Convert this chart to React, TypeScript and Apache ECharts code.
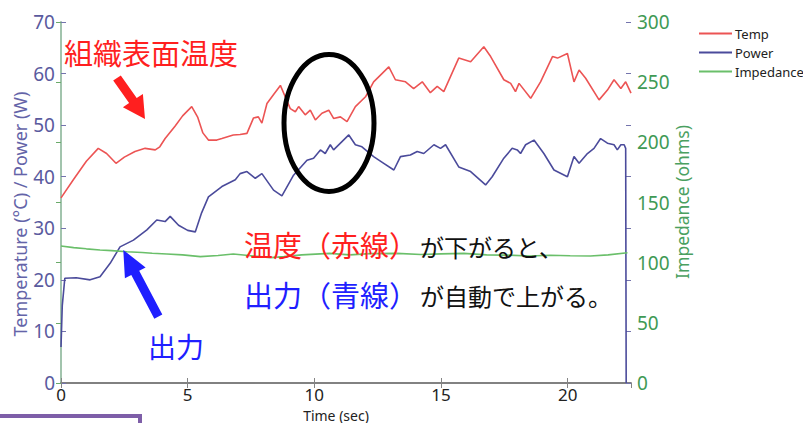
import React, { useEffect, useRef } from "react";
import * as echarts from "echarts";

const xTicks = { min: 0, max: 22.5, interval: 5 };
const leftTicks = { min: 0, max: 70, interval: 10 };
const rightTicks = { min: 0, max: 300, interval: 50 };

const seriesNames = ["Temp", "Power", "Impedance"];

const tempData: [number, number][] = [
  [0, 35.9], [0.5, 39.5], [1.0, 43], [1.47, 45.5], [1.8, 44.5], [2.17, 42.6], [2.5, 43.8],
  [2.92, 44.9], [3.32, 45.5], [3.72, 45.2], [3.9, 45.8], [4.11, 47.4], [4.5, 49.8], [4.8, 51.8],
  [5.16, 53.6], [5.4, 51.5], [5.6, 48.5], [5.82, 47.1], [6.15, 47.1], [6.35, 47.4], [6.8, 48.1],
  [7.07, 48.2], [7.34, 48.4], [7.6, 51.4], [7.79, 51.6], [7.93, 50.4], [8.13, 54.2], [8.4, 56],
  [8.66, 57.7], [8.85, 55.5], [9.05, 53.2], [9.25, 52.6], [9.38, 53.6], [9.64, 52.0], [9.84, 52.9],
  [10.04, 51.0], [10.3, 52.3], [10.57, 52.9], [10.76, 51.3], [11.03, 51.6], [11.29, 50.7],
  [11.62, 53.6], [12.02, 55.5], [12.34, 58.4], [12.94, 61.3], [13.2, 58.8], [13.6, 58.4],
  [13.92, 57.1], [14.26, 58.4], [14.58, 56.3], [14.85, 57.5], [15.11, 56.5], [15.7, 63.0],
  [16.17, 62.3], [16.69, 65.2], [16.96, 63.3], [17.48, 58.8], [17.75, 58.1], [17.94, 56.5],
  [18.08, 58.1], [18.54, 55.2], [18.93, 58.4], [19.4, 63.3], [19.6, 63.0], [19.99, 63.9],
  [20.25, 58.4], [20.45, 60.7], [20.71, 59.1], [21.24, 54.9], [21.57, 56.8], [21.83, 58.8],
  [22.1, 57.1], [22.29, 58.4], [22.5, 56.2],
];

const powerData: [number, number][] = [
  [0, 7], [0.05, 15], [0.15, 20.3], [0.6, 20.4], [1.15, 20.0], [1.54, 20.6], [1.94, 23.2],
  [2.33, 26.4], [2.86, 27.7], [3.39, 29.7], [3.78, 31.6], [4.11, 31.3], [4.31, 32.3], [4.64, 30.6],
  [5.0, 29.6], [5.3, 29.3], [5.55, 33], [5.82, 36.1], [6.35, 38.1], [6.88, 39.4], [7.07, 40.6],
  [7.34, 41.0], [7.67, 39.7], [7.93, 40.6], [8.39, 37.4], [8.72, 36.3], [9.18, 40.3], [9.71, 43.2],
  [9.97, 43.6], [10.24, 45.2], [10.43, 44.5], [10.63, 46.2], [10.76, 45.2], [11.03, 46.5],
  [11.36, 48.1], [11.62, 46.2], [11.88, 45.8], [12.34, 43.9], [12.74, 42.6], [13.14, 41.3],
  [13.4, 43.9], [13.79, 44.2], [14.06, 44.9], [14.32, 44.5], [14.72, 46.2], [14.98, 45.5],
  [15.18, 46.2], [15.7, 41.9], [16.17, 41.0], [16.76, 38.4], [17.02, 40.0], [17.48, 43.6],
  [17.81, 45.5], [18.01, 45.2], [18.14, 44.5], [18.34, 46.2], [18.67, 47.1], [19.06, 44.5],
  [19.46, 41.3], [19.99, 40.0], [20.25, 43.9], [20.45, 42.6], [20.78, 44.5], [21.04, 45.5],
  [21.3, 47.4], [21.57, 46.5], [21.83, 46.2], [21.96, 45.2], [22.1, 46.2], [22.23, 46.2],
  [22.29, 45.5], [22.31, 0],
];

const impedanceData: [number, number][] = [
  [0, 113.9], [0.5, 112.5], [1.0, 111.5], [1.54, 110.5], [2.0, 110], [2.6, 109.1], [3.2, 108.5],
  [3.6, 107.8], [4.18, 107.2], [4.8, 106.5], [5.5, 105], [6.2, 106], [6.8, 107.2], [7.4, 106],
  [8.26, 104.2], [8.8, 105], [9.5, 106.5], [10.6, 107.7], [11.4, 106.5], [12.2, 107.5],
  [13.27, 107.7], [14.2, 106.8], [15.0, 107.3], [15.9, 107.7], [16.8, 106.5], [17.6, 106.3],
  [18.5, 105.6], [19.3, 106.2], [20.1, 105.8], [20.9, 105.6], [21.6, 106.5], [22.36, 108.3],
];

const CJK = '"Noto Sans CJK JP", "Noto Sans", sans-serif';
const SANS = '"Noto Sans", "Open Sans", sans-serif';
const RED = "#ff1f1f";
const BLUE = "#1f1fff";

function txt(text: string, x: number, y: number, size: number, fill: string, extra: any = {}) {
  return {
    type: "text",
    z: 100,
    x,
    y,
    style: { text, fontSize: size, fontFamily: CJK, fill, verticalAlign: "middle", ...extra },
  };
}

export default function App() {
  const ref = useRef<HTMLDivElement>(null);
  useEffect(() => {
    if (!ref.current) return;
    const chart = echarts.init(ref.current, undefined, { renderer: "svg" });
    const axisGrey = "#858585";
    const purple = "#7474ad";
    const green = "#3f9a55";
    chart.setOption({
      animation: false,
      backgroundColor: "#ffffff",
      grid: { left: 61, right: 172, top: 22, bottom: 40, containLabel: false, outerBoundsMode: "none" },
      legend: {
        orient: "vertical",
        left: 694,
        top: 22,
        icon: "rect",
        itemWidth: 33,
        itemHeight: 2,
        itemGap: 6,
        data: seriesNames,
        textStyle: { fontSize: 13, color: "#222", fontFamily: SANS, padding: [0, 0, 0, -2] },
      },
      xAxis: [
        {
          type: "value",
          position: "bottom",
          ...xTicks,
          axisLine: { show: true, lineStyle: { color: axisGrey, width: 1.5 } },
          axisTick: { show: true, inside: true, length: 5, lineStyle: { color: axisGrey } },
          axisLabel: { color: "#222", fontSize: 17, lineHeight: 17, margin: 3, showMaxLabel: false, fontFamily: SANS },
          splitLine: { show: false },
        },
        {
          type: "value",
          position: "top",
          ...xTicks,
          axisLine: { show: true, lineStyle: { color: "#777", width: 1.5 } },
          axisTick: { show: true, inside: true, length: 5, lineStyle: { color: axisGrey } },
          axisLabel: { show: false },
          splitLine: { show: false },
        },
      ],
      yAxis: [
        {
          type: "value",
          position: "left",
          ...leftTicks,
          axisLine: { show: true, lineStyle: { color: purple, width: 1.5 } },
          axisTick: { show: true, inside: true, length: 5, lineStyle: { color: purple } },
          axisLabel: { color: "#5a5a9e", fontSize: 19, margin: 6, fontFamily: SANS },
          splitLine: { show: false },
        },
        {
          type: "value",
          position: "right",
          ...rightTicks,
          axisLine: { show: true, lineStyle: { color: "#a6d3a6", width: 1.5 } },
          axisTick: { show: true, inside: true, length: 5, lineStyle: { color: "#6aaa6a" } },
          axisLabel: { color: green, fontSize: 19, margin: 6, fontFamily: SANS },
          splitLine: { show: false },
        },
        {
          type: "value",
          position: "right",
          ...leftTicks,
          axisLine: { show: false },
          axisTick: { show: true, inside: true, length: 5, lineStyle: { color: purple } },
          axisLabel: { show: false },
          splitLine: { show: false },
        },
      ],
      series: [
        {
          name: seriesNames[0],
          type: "line",
          data: tempData,
          yAxisIndex: 0,
          symbol: "none",
          color: "#ec5454",
          lineStyle: { width: 1.6, color: "#ec5454" },
        },
        {
          name: seriesNames[1],
          type: "line",
          data: powerData,
          yAxisIndex: 0,
          symbol: "none",
          color: "#4b4b9b",
          lineStyle: { width: 1.6, color: "#4b4b9b" },
        },
        {
          name: seriesNames[2],
          type: "line",
          data: impedanceData,
          yAxisIndex: 1,
          symbol: "none",
          color: "#6abf6a",
          lineStyle: { width: 1.6, color: "#6abf6a" },
        },
      ],
      graphic: [
        {
          type: "text",
          z: 100,
          x: 336,
          y: 415,
          style: {
            text: "Time (sec)",
            fontSize: 14,
            fontFamily: SANS,
            fill: "#222",
            align: "center",
            verticalAlign: "middle",
          },
        },
        {
          type: "text",
          z: 100,
          rotation: Math.PI / 2,
          x: 20,
          y: 214,
          style: {
            text: "Temperature (°C) / Power (W)",
            fontSize: 18,
            fontFamily: SANS,
            fill: "#6464a8",
            align: "center",
            verticalAlign: "middle",
          },
        },
        {
          type: "text",
          z: 100,
          rotation: Math.PI / 2,
          x: 682,
          y: 202,
          style: {
            text: "Impedance (ohms)",
            fontSize: 17.5,
            fontFamily: SANS,
            fill: "#4aa060",
            align: "center",
            verticalAlign: "middle",
          },
        },
        txt("組織表面温度", 64, 52, 29, RED),
        {
          type: "polygon",
          z: 100,
          shape: {
            points: [
              [113.2, 80.5], [129.1, 103.1], [122.9, 107.2], [145, 119],
              [142.9, 94.0], [136.7, 98.1], [120.8, 75.5],
            ],
          },
          style: { fill: RED },
        },
        {
          type: "ellipse",
          z: 100,
          shape: { cx: 329, cy: 123, rx: 45, ry: 68.5 },
          style: { fill: "none", stroke: "#000", lineWidth: 5 },
        },
        txt("温度（赤線）", 244, 244, 29, RED),
        txt("が下がると、", 420, 246, 24, "#111"),
        txt("出力（青線）", 244, 294, 29, BLUE),
        txt("が自動で上がる。", 420, 295, 24, "#111"),
        txt("出力", 148, 346, 28, BLUE),
        {
          type: "polygon",
          z: 100,
          shape: {
            points: [
              [162.3, 314.6], [139.2, 270.7], [145.6, 267.4], [123.3, 250],
              [124.9, 278.2], [131.3, 274.9], [154.3, 318.8],
            ],
          },
          style: { fill: BLUE },
        },
        {
          type: "rect",
          z: 100,
          shape: { x: -3, y: 416, width: 143, height: 20 },
          style: { fill: "#fff", stroke: "#7e5ea8", lineWidth: 4 },
        },
      ],
    });
    return () => chart.dispose();
  }, []);
  return (
    <div
      ref={ref}
      style={{ position: "fixed", left: 0, top: 0, width: 803, height: 423, background: "#fff" }}
    />
  );
}
